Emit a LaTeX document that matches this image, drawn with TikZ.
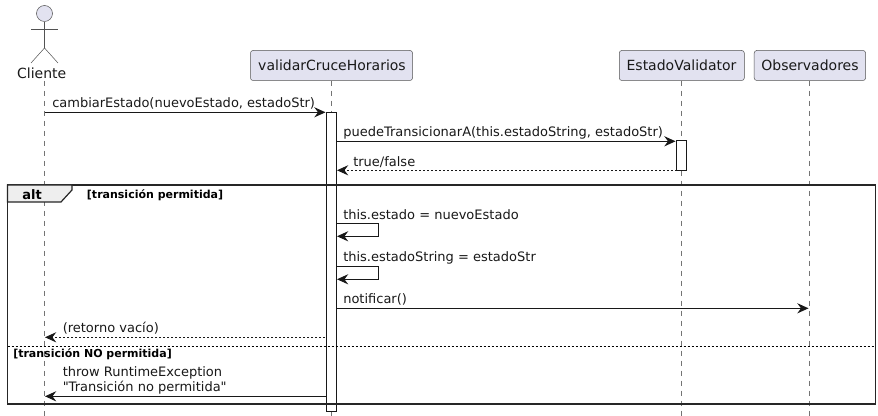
\documentclass[tikz,border=0pt]{standalone}
\usepackage{fontspec}
\setmainfont{DejaVu Sans}
\newfontfamily\plainfont{DejaVu Sans}
\usetikzlibrary{arrows.meta}
\definecolor{partfill}{HTML}{E2E2F0}
\definecolor{ink}{HTML}{181818}
\definecolor{tabfill}{HTML}{EEEEEE}
\tikzset{
  x=0.75pt,y=-0.75pt,
  partbox/.style={draw=ink!75,fill=partfill,rounded corners=1.9pt,line width=0.375pt,inner sep=0pt},
  partlabel/.style={font=\fontsize{10.5pt}{12pt}\selectfont,text=black!90,anchor=base,inner sep=0pt},
  msglabel/.style={font=\fontsize{9.75pt}{11.6pt}\selectfont,text=black!90,anchor=base west,inner sep=0pt,align=left},
  guardlabel/.style={font=\bfseries\fontsize{8.25pt}{10pt}\selectfont,text=black,anchor=base west,inner sep=0pt},
  lifeline/.style={draw=ink!60,line width=0.375pt,dash pattern=on 3.75pt off 3.75pt},
  actbox/.style={draw=ink,fill=white,line width=0.75pt,outer sep=0pt},
  msgarrow/.style={draw=ink,line width=0.75pt,-{Stealth[length=8.4pt,width=7.6pt,inset=2.8pt,color=ink]}},
  retarrow/.style={msgarrow,dash pattern=on 1.5pt off 1.5pt},
  actorline/.style={draw=ink!75,line width=0.375pt},
  framebox/.style={draw=black!85,line width=1.15pt},
}
\begin{document}
\begin{tikzpicture}
\useasboundingbox (0,0) rectangle (878,416);
\fill[white] (0,0) rectangle (878,416);
% participants
\coordinate (cliTop) at (44.5,81);
\coordinate (cliEnd) at (44.5,416);
\node[partbox,minimum width=121.5pt,minimum height=22.5pt] (val) at (331.5,65.5) {};
\node[partbox,minimum width=93.75pt,minimum height=22.5pt] (est) at (681.8,65.5) {};
\node[partbox,minimum width=83.5pt,minimum height=22.5pt] (obs) at (809.9,65.5) {};
\coordinate (valEnd) at (331,416);
\coordinate (estEnd) at (681.3,416);
\coordinate (obsEnd) at (809.5,416);
\draw[lifeline] (cliTop) -- (cliEnd);
\draw[lifeline] (val.south -| valEnd) -- (valEnd);
\draw[lifeline] (est.south -| estEnd) -- (estEnd);
\draw[lifeline] (obs.south -| obsEnd) -- (obsEnd);
\node[partlabel] (valT) at (332,70.6) {validarCruceHorarios};
\node[partlabel] (estT) at (681.5,70.6) {EstadoValidator};
\node[partlabel] (obsT) at (810,70.6) {Observadores};
% actor
\node[circle,draw=ink!75,fill=partfill,line width=0.375pt,minimum size=12pt,inner sep=0pt] (head) at (44.5,13.5) {};
\coordinate (hip) at (44.5,48);
\coordinate (armL) at (31,29);
\coordinate (armR) at (58,29);
\coordinate (legL) at (31,63);
\coordinate (legR) at (58,63);
\draw[actorline] (head.south) -- (hip);
\draw[actorline] (armL) -- (armR);
\draw[actorline] (legL) -- (hip) -- (legR);
\node[partlabel,fill=white] (cli) at (41.7,78.6) {Cliente};
% activations
\node[actbox,minimum width=7.5pt,minimum height=224pt,inner sep=0pt] (act1) at (331.5,261.9) {};
\node[actbox,minimum width=7.5pt,minimum height=21.9pt,inner sep=0pt] (act2) at (681.5,155.6) {};
% frame
\draw[framebox] (7.5,185) rectangle (875.5,404);
\draw[framebox,fill=tabfill,line width=0.9pt] (7.5,185) -- (72,185) -- (72,190) -- (61,202) -- (7.5,202) -- cycle;
\node[font=\bfseries\fontsize{9.75pt}{11pt}\selectfont,anchor=base west,inner sep=0pt] (altT) at (22,199.4) {alt};
\node[guardlabel] (g1) at (86.7,198.3) {[transición permitida]};
\coordinate (sepL) at (7.5,346.3);
\coordinate (sepR) at (875.5,346.3);
\draw[draw=black,line width=0.75pt,dash pattern=on 1.5pt off 1.5pt] (sepL) -- (sepR);
\node[guardlabel] (g2) at (13,357.6) {[transición NO permitida]};
% message ends
\coordinate (m1a) at (44.5,112.3);
\coordinate (m1b) at (325.5,112.3);
\coordinate (m2a) at (336.5,141.3);
\coordinate (m2b) at (675.5,141.3);
\coordinate (m3a) at (676.5,170.3);
\coordinate (m3b) at (337,170.3);
\coordinate (s1a) at (336.5,223.3);
\coordinate (s1b) at (378.5,223.3);
\coordinate (s1c) at (378.5,236.3);
\coordinate (s1d) at (337,236.3);
\coordinate (s2a) at (336.5,266.7);
\coordinate (s2b) at (378.5,266.7);
\coordinate (s2c) at (378.5,279.3);
\coordinate (s2d) at (337,279.3);
\coordinate (m4a) at (336.5,308.3);
\coordinate (m4b) at (808.5,308.3);
\coordinate (m5a) at (325,337.3);
\coordinate (m5b) at (45,337.3);
\coordinate (m6a) at (326.5,396.3);
\coordinate (m6b) at (45,396.3);
\draw[msgarrow] (m1a) -- (m1b);
\draw[msgarrow] (m2a) -- (m2b);
\draw[retarrow] (m3a) -- (m3b);
\draw[msgarrow] (s1a) -- (s1b) -- (s1c) -- (s1d);
\draw[msgarrow] (s2a) -- (s2b) -- (s2c) -- (s2d);
\draw[msgarrow] (m4a) -- (m4b);
\draw[retarrow] (m5a) -- (m5b);
\draw[msgarrow] (m6a) -- (m6b);
% labels
\node[msglabel] (l1) at (52,107.4) {cambiarEstado(nuevoEstado, estadoStr)};
\node[msglabel] (l2) at (343,136.6) {puedeTransicionarA(this.estadoString, estadoStr)};
\node[msglabel] (l3) at (353,166.6) {true/false};
\node[msglabel] (l4) at (343,219.6) {this.estado = nuevoEstado};
\node[msglabel] (l5) at (343,261.6) {this.estadoString = estadoStr};
\node[msglabel] (l6) at (343,303.4) {notificar()};
\node[msglabel] (l7) at (62.5,332.6) {(retorno vacío)};
\node[msglabel] (l8) at (62.5,376.4) {throw RuntimeException};
\node[msglabel,font=\plainfont\fontsize{9.75pt}{11.6pt}\selectfont] (l9) at (62.5,391.4) {"Transición no permitida"};
\end{tikzpicture}
\end{document}
